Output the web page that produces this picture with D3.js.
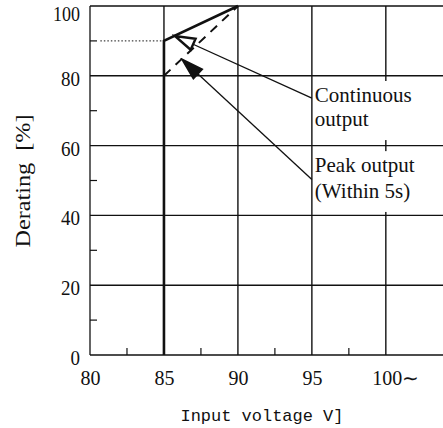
<!DOCTYPE html>
<html><head><meta charset="utf-8">
<script src="https://cdn.jsdelivr.net/npm/d3@7"></script>
<style>body{margin:0;background:#fff}svg{display:block}</style>
</head><body>
<script>
// ---- data ----
const xTicks = [80, 85, 90, 95, 100];
const xTickLabels = ["80", "85", "90", "95", "100∼"];
const yTicks = [0, 20, 40, 60, 80, 100];
const xMinor = [82.5, 87.5, 92.5, 97.5];
const yMinor = [10, 30, 50, 70, 90];
const continuousV = [85, 85, 90];
const continuousPct = [0, 90, 100];
const peakV = [85, 90];
const peakPct = [80, 100];
const refV = [80.7, 85];
const refPct = [90, 90];
const labelLines = [["Continuous", "output"], ["Peak output", "(Within 5s)"]];
const labelAnchorV = [95.2, 95.2];
const labelAnchorPct = [[72.5, 65.6], [52.4, 45.0]];
const arrowTailV = [95, 95];
const arrowTailPct = [73.6, 50.3];
const arrowTipV = [85.74, 86.28];
const arrowTipPct = [91.4, 84.5];

const W = 443, H = 428;
const svg = d3.select("body").append("svg").attr("width", W).attr("height", H);
svg.append("rect").attr("width", W).attr("height", H).attr("fill", "#fff");

const x = d3.scaleLinear().domain([80, 104]).range([90, 445]);
const y = d3.scaleLinear().domain([0, 100]).range([355, 6]);
const ink = "#111";

// grid
const g = svg.append("g");
g.selectAll(".hg").data(yTicks.filter(d => d > 0)).join("line")
  .attr("x1", x(80)).attr("x2", W + 5).attr("y1", d => y(d)).attr("y2", d => y(d))
  .attr("stroke", ink).attr("stroke-width", 1.4);
g.selectAll(".vg").data(xTicks.filter(d => d > 80)).join("line")
  .attr("x1", d => x(d)).attr("x2", d => x(d)).attr("y1", y(0)).attr("y2", y(100))
  .attr("stroke", ink).attr("stroke-width", 1.4);
// axes frame
g.append("line").attr("x1", x(80)).attr("x2", x(80)).attr("y1", y(0)).attr("y2", y(100)).attr("stroke", ink).attr("stroke-width", 1.3);
g.append("line").attr("x1", x(80)).attr("x2", W + 5).attr("y1", y(0)).attr("y2", y(0)).attr("stroke", ink).attr("stroke-width", 1.3);
// minor ticks
g.selectAll(".ym").data(yMinor).join("line")
  .attr("x1", x(80)).attr("x2", x(80) + 7).attr("y1", d => y(d)).attr("y2", d => y(d))
  .attr("stroke", ink).attr("stroke-width", 1.2);
g.selectAll(".xm").data(xMinor).join("line")
  .attr("x1", d => x(d)).attr("x2", d => x(d)).attr("y1", y(0)).attr("y2", y(0) - 7)
  .attr("stroke", ink).attr("stroke-width", 1.2);

// label boxes + text
labelLines.forEach((lines, i) => {
  const grp = svg.append("g");
  const t = grp.append("g");
  lines.forEach((s, j) => {
    t.append("text").attr("x", x(labelAnchorV[i])).attr("y", y(labelAnchorPct[i][j]))
      .attr("font-family", "Liberation Serif").attr("font-size", 21)
      .attr("fill", ink).text(s);
  });
  const bb = t.node().getBBox();
  grp.insert("rect", ":first-child")
    .attr("x", x(95) + 2).attr("y", bb.y - 2)
    .attr("width", bb.x + bb.width + 4 - (x(95) + 2)).attr("height", bb.height + 11)
    .attr("fill", "#fff");
});

// series
const line = d3.line().x(d => x(d[0])).y(d => y(d[1]));
svg.append("path").datum(refV.map((v, i) => [v, refPct[i]])).attr("d", line)
  .attr("fill", "none").attr("stroke", ink).attr("stroke-width", 1).attr("stroke-dasharray", "1.5,2");
svg.append("path").datum(peakV.map((v, i) => [v, peakPct[i]])).attr("d", line)
  .attr("fill", "none").attr("stroke", ink).attr("stroke-width", 2).attr("stroke-dasharray", "9,7");
svg.append("path").datum(continuousV.map((v, i) => [v, continuousPct[i]])).attr("d", line)
  .attr("fill", "none").attr("stroke", ink).attr("stroke-width", 2.6);

// arrows
const defs = svg.append("defs");
const markerFills = ["#fff", ink];
markerFills.forEach((f, i) => {
  defs.append("marker").attr("id", "ah" + i).attr("markerUnits", "userSpaceOnUse")
    .attr("viewBox", "-3 -9 26 18").attr("markerWidth", 26).attr("markerHeight", 18)
    .attr("refX", 20).attr("refY", 0).attr("orient", "auto")
    .append("path").attr("d", "M0,-6L20,0L0,6Z")
    .attr("fill", f).attr("stroke", ink).attr("stroke-width", 2.4).attr("stroke-linejoin", "miter");
});
arrowTailV.forEach((v, i) => {
  svg.append("line").attr("x1", x(v)).attr("y1", y(arrowTailPct[i]))
    .attr("x2", x(arrowTipV[i])).attr("y2", y(arrowTipPct[i]))
    .attr("stroke", ink).attr("stroke-width", 1.3).attr("marker-end", "url(#ah" + i + ")");
});

// axes labels
const xa = svg.append("g").attr("transform", `translate(0,${y(0)})`)
  .call(d3.axisBottom(x).tickValues(xTicks).tickSize(0).tickPadding(16)
    .tickFormat((d, i) => xTickLabels[i]));
xa.select(".domain").remove();
xa.selectAll("text").attr("font-family", "Liberation Serif").attr("font-size", 20).attr("fill", ink)
  .attr("text-anchor", (d, i) => i === xTickLabels.length - 1 ? "start" : "middle")
  .attr("dx", (d, i) => i === xTickLabels.length - 1 ? -14 : 0);

const ya = svg.append("g").attr("transform", `translate(${x(80)},0)`)
  .call(d3.axisLeft(y).tickValues(yTicks).tickSize(0).tickPadding(10));
ya.select(".domain").remove();
ya.selectAll("text").attr("font-family", "Liberation Serif").attr("font-size", 22).attr("fill", ink)
  .attr("dy", d => d >= 100 ? "14px" : "9.5px")
  .attr("textLength", d => d >= 100 ? 27 : (d >= 10 ? 19 : 9.5)).attr("lengthAdjust", "spacingAndGlyphs");

// titles
svg.append("text").attr("transform", "translate(30,181) rotate(-90)")
  .attr("text-anchor", "middle").attr("font-family", "Liberation Serif").attr("font-size", 22)
  .attr("fill", ink).attr("textLength", 133).attr("lengthAdjust", "spacingAndGlyphs")
  .text("Derating\u00a0\u00a0[%]");
svg.append("text").attr("x", 262).attr("y", 421)
  .attr("text-anchor", "middle").attr("font-family", "Liberation Mono").attr("font-size", 17)
  .attr("fill", ink).attr("textLength", 163).attr("lengthAdjust", "spacingAndGlyphs")
  .text("Input voltage V]");
</script>
</body></html>
